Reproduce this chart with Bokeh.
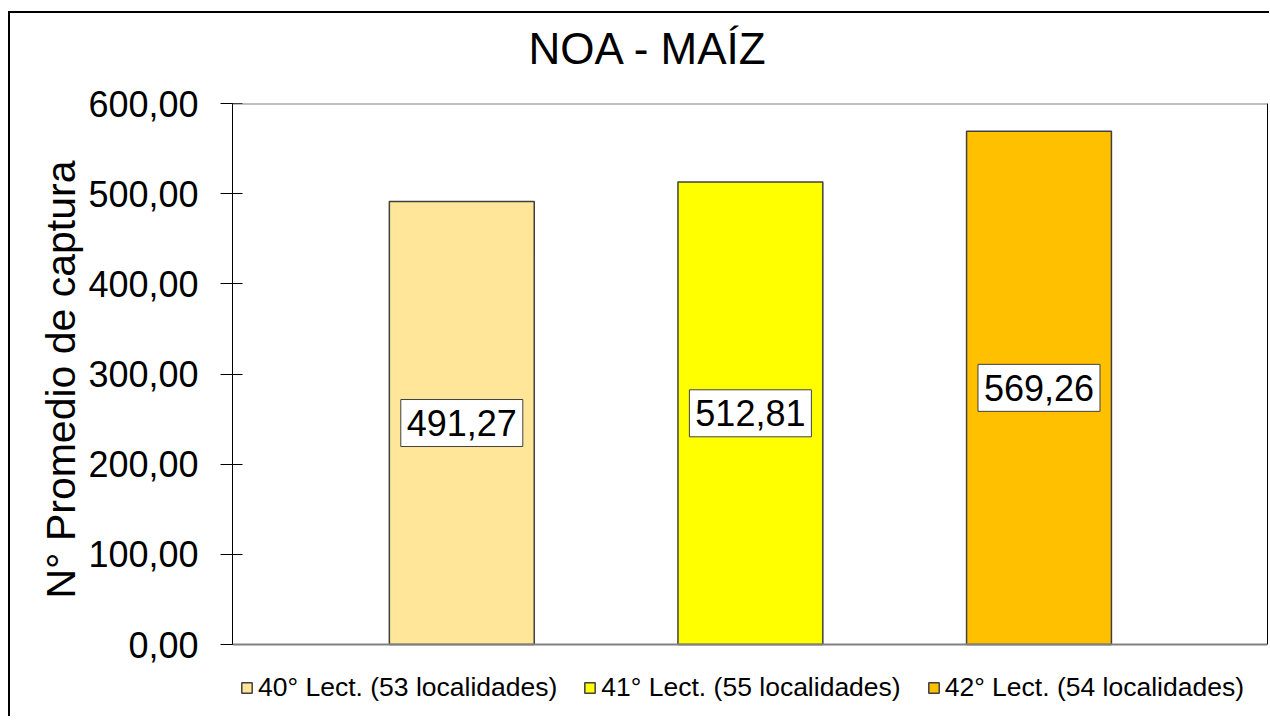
from bokeh.plotting import figure
from bokeh.models import (Range1d, FixedTicker, ColumnDataSource, Legend, LegendItem, Span, Title, LinearAxis)
from bokeh.core.properties import value
from bokeh.embed import file_html
from bokeh.resources import INLINE

# ---- data ----
categories = ["40° Lect. (53 localidades)", "41° Lect. (55 localidades)", "42° Lect. (54 localidades)"]
values = [491.27, 512.81, 569.26]
value_labels = ["491,27", "512,81", "569,26"]
colors = ["#FFE699", "#FFFF00", "#FFC000"]
y_ticks = [0, 100, 200, 300, 400, 500, 600]
y_tick_labels = ["0,00", "100,00", "200,00", "300,00", "400,00", "500,00", "600,00"]
title_text = "NOA - MAÍZ"
y_title = "N° Promedio de captura"

FONT = "Liberation Sans"
Y_MIN, Y_MAX = 0, 600
# extra room below zero (inside the frame) for the legend: 72 px at 541 px per 600 units
Y_LOW = -72 * (Y_MAX - Y_MIN) / 541

src = ColumnDataSource(dict(
    x=list(range(1, len(values) + 1)),
    top=values,
    ymid=[v / 2 for v in values],
    vlabel=value_labels,
    color=colors,
    cat=categories,
))

p = figure(output_backend="svg", toolbar_location=None,
           frame_width=1035, frame_height=613,
           min_border_left=222, min_border_right=2, min_border_top=90, min_border_bottom=0,
           x_range=Range1d(0.2055, 3.7918), y_range=Range1d(Y_LOW, Y_MAX))
p.styles = {"border-left": "2px solid black", "border-top": "2px solid black",
            "margin-top": "11px", "margin-left": "8px"}

p.background_fill_color = "white"
p.border_fill_color = "white"
p.outline_line_color = None

r = p.vbar(x="x", top="top", width=0.502, bottom=0, source=src,
           fill_color="color", line_color="#404040", line_width=1.5)

# data labels with white boxes
p.rect(x="x", y="ymid", width=122, height=47, width_units="screen", height_units="screen",
       source=src, fill_color="white", line_color="#404040", line_width=1)
p.text(x="x", y="ymid", text="vlabel", source=src, text_align="center", text_baseline="middle",
       text_font=value(FONT), text_font_size="36px", text_color="black")

# gridline-like borders at 0 and 600
p.add_layout(Span(location=Y_MAX, dimension="width", line_color="#808080", line_width=2))
p.add_layout(Span(location=Y_MIN, dimension="width", line_color="#808080", line_width=2))
p.xgrid.visible = False
p.ygrid.visible = False

p.xaxis.visible = False

ya = p.yaxis[0]
ya.bounds = (Y_MIN, Y_MAX)
ya.ticker = FixedTicker(ticks=y_ticks)
ya.major_label_overrides = {t: l for t, l in zip(y_ticks, y_tick_labels)}
ya.major_label_text_font = FONT
ya.major_label_text_font_size = "36px"
ya.major_label_text_color = "black"
ya.major_label_standoff = 22
ya.major_tick_out = 12
ya.major_tick_in = 10
ya.major_tick_line_color = "black"
ya.minor_tick_line_color = None
ya.axis_line_color = "black"
ya.axis_label = None

# right border of the plot area
ra = LinearAxis(bounds=(Y_MIN, Y_MAX), ticker=FixedTicker(ticks=[]),
                axis_line_color="black", major_tick_line_color=None, minor_tick_line_color=None,
                major_tick_out=0, major_tick_in=0, major_label_standoff=0)
p.add_layout(ra, "right")

# y axis title as a left-side Title, positioned along the 0..600 part
p.add_layout(Title(text=y_title, text_font=FONT, text_font_size="41px",
                   text_font_style="normal", text_color="black",
                   align="left", offset=118, standoff=3), "left")

# title: main title left empty; spacer + real title stacked above the frame
p.title.text = ""
p.add_layout(Title(text=" ", text_font_size="10px", standoff=18), "above")
p.add_layout(Title(text=title_text, text_font=FONT, text_font_size="44px",
                   text_font_style="normal", text_color="black",
                   align="left", offset=296, standoff=0), "above")

# legend (inside the frame, below the zero line)
items = [LegendItem(label=c, renderers=[r], index=i) for i, c in enumerate(categories)]
legend = Legend(items=items, location=(8, 13), orientation="horizontal",
                label_text_font=FONT, label_text_font_size="26.5px", label_text_color="black",
                glyph_width=13, glyph_height=13, label_standoff=5, spacing=26,
                padding=0, margin=0, border_line_color=None, background_fill_alpha=0)
p.add_layout(legend)

open("out.html", "w").write(file_html(p, INLINE))
